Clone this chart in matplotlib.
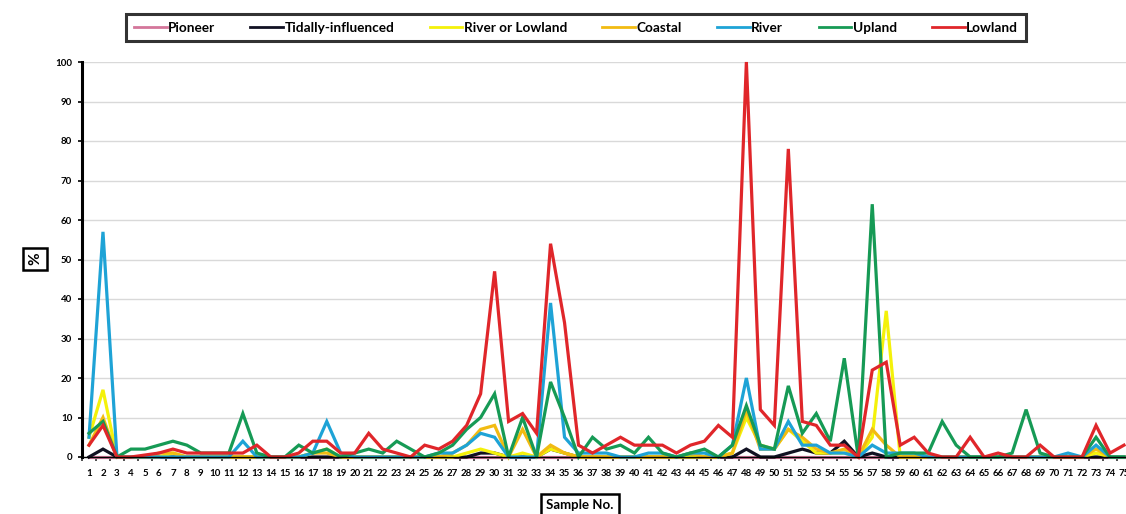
import numpy as np
import matplotlib.pyplot as plt

plt.rcParams['font.family'] = ['Lato', 'DejaVu Sans']

samples = list(range(1, 76))

# values (%)
pioneer = [0] * 75

tidally = [0, 2, 0, 0, 0, 0, 0, 0, 0, 0, 0, 0, 0, 0, 0, 0, 0, 0, 0, 0,
           0, 0, 0, 0, 0, 0, 0, 0, 1, 1, 0, 0, 0, 2, 1, 0, 0, 0, 0, 0,
           0, 0, 0, 0, 0, 0, 0, 2, 0, 0, 1, 2, 1, 1, 4, 0, 1, 0, 0, 0,
           0, 0, 0, 0, 0, 0, 0, 0, 0, 0, 0, 0, 0, 0, 0]

river_lowland = [5, 17, 0, 0, 0, 0, 1, 0, 0, 0, 0, 0, 0, 0, 0, 0, 1, 2, 0, 0,
                 0, 0, 0, 0, 0, 0, 0, 1, 2, 1, 0, 1, 0, 2, 1, 0, 0, 0, 0, 0,
                 0, 0, 0, 0, 0, 0, 1, 10, 3, 2, 7, 4, 1, 1, 1, 0, 5, 37, 0, 0,
                 0, 0, 0, 0, 0, 0, 0, 0, 0, 0, 0, 0, 1, 0, 0]

coastal = [3, 10, 0, 0, 0, 1, 1, 0, 0, 0, 0, 0, 0, 0, 0, 0, 1, 1, 0, 0,
           0, 0, 0, 0, 0, 0, 1, 3, 7, 8, 0, 7, 0, 3, 1, 0, 0, 0, 0, 0,
           0, 0, 0, 1, 0, 0, 1, 12, 2, 2, 7, 5, 2, 1, 2, 0, 7, 3, 0, 0,
           0, 0, 0, 0, 0, 0, 0, 0, 0, 0, 0, 0, 2, 0, 0]

river = [5, 57, 0, 0, 0, 0, 0, 0, 0, 0, 0, 4, 0, 0, 0, 0, 1, 9, 1, 0,
         0, 0, 0, 0, 0, 1, 1, 3, 6, 5, 0, 0, 0, 39, 5, 1, 1, 1, 0, 0,
         1, 1, 0, 1, 1, 0, 3, 20, 2, 2, 9, 3, 3, 1, 1, 0, 3, 1, 1, 1,
         0, 0, 0, 0, 0, 0, 0, 0, 0, 0, 1, 0, 3, 0, 0]

upland = [6, 9, 0, 2, 2, 3, 4, 3, 1, 1, 1, 11, 1, 0, 0, 3, 1, 2, 0, 1,
          2, 1, 4, 2, 0, 1, 3, 7, 10, 16, 0, 10, 0, 19, 10, 0, 5, 2, 3, 1,
          5, 1, 0, 1, 2, 0, 3, 13, 3, 2, 18, 6, 11, 4, 25, 0, 64, 0, 1, 1,
          1, 9, 3, 0, 0, 0, 1, 12, 1, 0, 0, 0, 5, 0, 0]

lowland = [3, 8, 0, 0, 0.5, 1, 2, 1, 1, 1, 1, 1, 3, 0, 0, 1, 4, 4, 1, 1,
           6, 2, 1, 0, 3, 2, 4, 8, 16, 47, 9, 11, 6, 54, 34, 3, 1, 3, 5, 3,
           3, 3, 1, 3, 4, 8, 5, 100, 12, 8, 78, 9, 8, 3, 3, 0, 22, 24, 3, 5,
           1, 0, 0, 5, 0, 1, 0, 0, 3, 0, 0, 0, 8, 1, 3]

series = [
    ('Pioneer', pioneer, '#d4769a'),
    ('Tidally-influenced', tidally, '#111122'),
    ('River or Lowland', river_lowland, '#f4f10a'),
    ('Coastal', coastal, '#f2bb12'),
    ('River', river, '#1ea3d6'),
    ('Upland', upland, '#169a55'),
    ('Lowland', lowland, '#e0262a'),
]

W, H = 1126, 514
fig = plt.figure(figsize=(W / 100, H / 100), dpi=100)
ax = fig.add_axes([82 / W, 57 / H, (1131 - 82) / W, (457 - 62) / H])

for name, vals, col in series:
    ax.plot(samples, vals, color=col, lw=2.3, label=name, clip_on=False,
            solid_joinstyle='miter')

ax.set_xlim(0.5, 75.5)
ax.set_ylim(0, 100)
ax.set_yticks(np.arange(0, 101, 10))
ax.yaxis.grid(True, color='#d9d9d9', lw=1.0)
ax.set_axisbelow(True)

ax.set_xticks(samples)
ax.set_xticklabels([str(s) for s in samples], fontsize=7, fontweight='bold')
ax.set_xticks(np.arange(0.5, 76, 1), minor=True)
ax.tick_params(axis='x', which='major', length=0, pad=9)
ax.tick_params(axis='x', which='minor', length=3, width=1.2, color='#333333')
ax.tick_params(axis='y', labelsize=7, length=3, width=1.2, pad=4)
for t in ax.get_yticklabels():
    t.set_fontweight('bold')

for s in ['top', 'right']:
    ax.spines[s].set_visible(False)
ax.spines['left'].set_linewidth(2.2)
ax.spines['bottom'].set_linewidth(1.0)

fig.text(35 / W, 1 - 259 / H, '%', rotation=90, ha='center', va='center',
         fontsize=11, fontweight='bold',
         bbox=dict(boxstyle='square,pad=0.3', fc='white', ec='black', lw=1.8))
fig.text(580 / W, 1 - 505 / H, 'Sample No.', ha='center', va='center',
         fontsize=9.5, fontweight='bold',
         bbox=dict(boxstyle='square,pad=0.4', fc='white', ec='black', lw=1.8))

leg = fig.legend(loc='center', bbox_to_anchor=(576 / W, 1 - 27.5 / H), ncol=7,
                 frameon=True, fancybox=False, handlelength=2.4,
                 handletextpad=0.1, columnspacing=2.6, borderpad=0.55,
                 prop={'weight': 'bold', 'size': 9.8})
leg.get_frame().set_edgecolor('black')
leg.get_frame().set_linewidth(2.2)
for line in leg.get_lines():
    line.set_linewidth(2.0)

fig.savefig('out.png', dpi=100)
